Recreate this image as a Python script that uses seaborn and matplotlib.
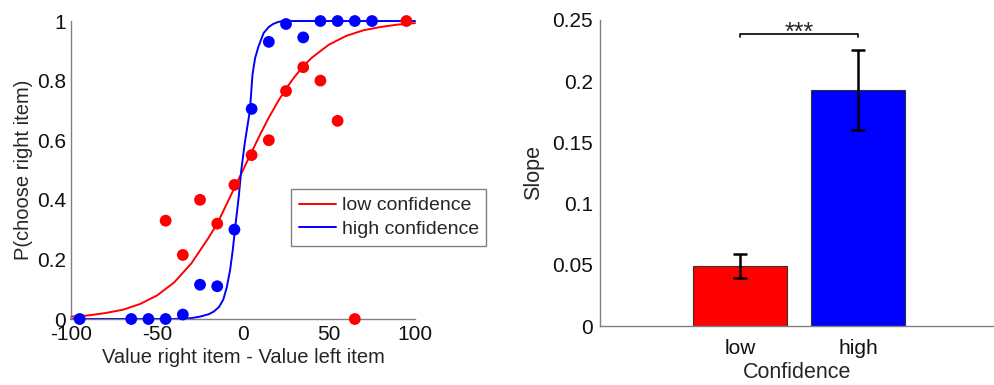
"""Psychometric curves by confidence level and slope comparison."""

import matplotlib

matplotlib.use("Agg")
import matplotlib.pyplot as plt
import pandas as pd
import seaborn as sns

# ---- data ----
# binned choice proportions
low_x = [-45, -35, -25, -15, -5, 5, 15, 25, 35, 45, 55, 65, 95]
low_p = [0.33, 0.215, 0.40, 0.32, 0.45, 0.55, 0.60, 0.765, 0.845, 0.80, 0.665, 0.0, 1.0]
high_x = [-95, -65, -55, -45, -35, -25, -15, -5, 5, 15, 25, 35, 45, 55, 65, 75]
high_p = [0.0, 0.0, 0.0, 0.0, 0.015, 0.115, 0.11, 0.30, 0.705, 0.93, 0.99, 0.945,
          1.0, 1.0, 1.0, 1.0]

# fitted curves (traced)
low_fit_x = [-100, -90, -80, -70, -60, -50, -40, -30, -20, -15, -10, -5, 0,
             5, 10, 15, 20, 25, 30, 35, 40, 50, 60, 70, 80, 90, 100]
low_fit_y = [0.008, 0.012, 0.02, 0.031, 0.05, 0.079, 0.123, 0.187, 0.273, 0.32,
             0.38, 0.44, 0.50, 0.56, 0.62, 0.676, 0.727, 0.773, 0.813, 0.848,
             0.877, 0.921, 0.95, 0.969, 0.98, 0.988, 0.993]
high_fit_x = [-100, -40, -30, -25, -20, -17, -14, -11.5, -9.5, -7.5, -6, -4.5, -2.5,
              -1, 1, 2.5, 4, 5.5, 7, 9, 12, 15, 17.5, 20, 23, 100]
high_fit_y = [0.0, 0.0, 0.003, 0.008, 0.016, 0.025, 0.04, 0.065, 0.105, 0.165, 0.23,
              0.31, 0.41, 0.5, 0.59, 0.645, 0.70, 0.82, 0.875, 0.915, 0.96, 0.98,
              0.99, 0.996, 1.0, 1.0]

# slopes
conf_levels = ["low", "high"]
slope_mean = [0.0488, 0.1928]
slope_err = [0.0097, 0.0327]

RED = "#ff0000"
BLUE = "#0000ff"
SPINE = "#808080"

sns.set_style("white")
plt.rcParams["font.family"] = ["Liberation Sans", "DejaVu Sans"]
plt.rcParams["axes.unicode_minus"] = False


def style_axes(ax):
    sns.despine(ax=ax)
    for side in ("left", "bottom"):
        ax.spines[side].set_color(SPINE)
        ax.spines[side].set_linewidth(1.0)
    ax.tick_params(direction="in", length=3, width=0.8, color=SPINE,
                   labelcolor="#111111")


def main():
    fig = plt.figure(figsize=(9.95, 3.85), dpi=100)
    ax1 = fig.add_axes([0.0714, 0.1714, 0.3457, 0.774])
    ax2 = fig.add_axes([0.603, 0.1532, 0.397, 0.795])

    # ---- left: psychometric curves ----
    fits = pd.concat([
        pd.DataFrame({"x": low_fit_x, "p": low_fit_y, "group": "low confidence"}),
        pd.DataFrame({"x": high_fit_x, "p": high_fit_y, "group": "high confidence"}),
    ])
    pts = pd.concat([
        pd.DataFrame({"x": low_x, "p": low_p, "group": "low confidence"}),
        pd.DataFrame({"x": high_x, "p": high_p, "group": "high confidence"}),
    ])
    pal = {"low confidence": RED, "high confidence": BLUE}

    sns.lineplot(data=fits, x="x", y="p", hue="group", palette=pal,
                 linewidth=1.4, ax=ax1, clip_on=False, zorder=2)
    sns.scatterplot(data=pts, x="x", y="p", hue="group", palette=pal,
                    s=72, linewidth=0, legend=False, ax=ax1,
                    clip_on=False, zorder=3)

    ax1.set_xlim(-100, 100)
    ax1.set_ylim(0, 1)
    ax1.set_xticks([-100, -50, 0, 50, 100])
    ax1.set_yticks([0, 0.2, 0.4, 0.6, 0.8, 1])
    ax1.set_yticklabels(["%g" % v for v in [0, 0.2, 0.4, 0.6, 0.8, 1]])
    ax1.set_xlabel("Value right item - Value left item", fontsize=14.5, labelpad=3)
    ax1.set_ylabel("P(choose right item)", fontsize=14.5, labelpad=3)
    style_axes(ax1)
    ax1.tick_params(labelsize=15, pad=3.5)
    ax1.tick_params(axis="x", pad=4.5)

    leg = ax1.legend(loc="upper left", bbox_to_anchor=(0.6395, 0.436),
                     borderaxespad=0, fontsize=14, frameon=True, fancybox=False,
                     handlelength=1.9, handletextpad=0.3, borderpad=0.4,
                     labelspacing=0.3)
    leg.get_frame().set_edgecolor(SPINE)
    leg.get_frame().set_linewidth(1.0)
    leg.get_frame().set_alpha(1)

    # ---- right: slopes ----
    bars = pd.DataFrame({"confidence": conf_levels, "slope": slope_mean})
    sns.barplot(data=bars, x="confidence", y="slope", hue="confidence",
                order=conf_levels, palette={"low": RED, "high": BLUE},
                width=0.8, edgecolor="#333333", linewidth=0.8, legend=False,
                errorbar=None, saturation=1, ax=ax2)
    ax2.errorbar(x=conf_levels, y=slope_mean, yerr=slope_err, fmt="none",
                 ecolor="black", elinewidth=1.8, capsize=5, capthick=1.8, zorder=4)

    # significance bracket
    yb = 0.2383
    ax2.plot([0, 0, 1, 1], [yb - 0.0025, yb, yb, yb - 0.0025], color="black",
             linewidth=1.2, clip_on=False)
    ax2.text(0.5, yb - 0.009, "***", ha="center", va="bottom", fontsize=18)

    ax2.set_xlim(-1.19, 2.16)
    ax2.set_ylim(0, 0.25)
    yt = [0, 0.05, 0.1, 0.15, 0.2, 0.25]
    ax2.set_yticks(yt)
    ax2.set_yticklabels(["%g" % v for v in yt])
    ax2.set_xlabel("Confidence", fontsize=15.5, labelpad=3)
    ax2.set_ylabel("Slope", fontsize=15.5, labelpad=6)
    style_axes(ax2)
    ax2.tick_params(labelsize=15)
    ax2.tick_params(axis="y", pad=5)
    ax2.tick_params(axis="x", length=0, pad=9)

    fig.savefig("out.png", dpi=100)
    plt.close(fig)


if __name__ == "__main__":
    main()
